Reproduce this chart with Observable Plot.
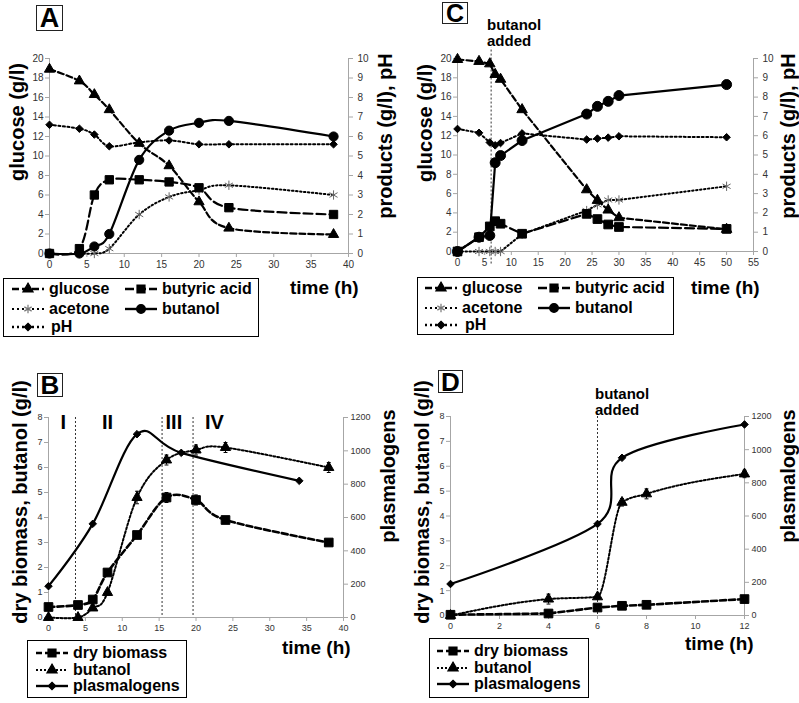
<!DOCTYPE html>
<html><head><meta charset="utf-8">
<script src="https://cdn.jsdelivr.net/npm/d3@7"></script>
<script src="https://cdn.jsdelivr.net/npm/@observablehq/plot@0.6"></script>
<style>
body{margin:0;background:#fff;}
#root{position:relative;width:799px;height:703px;overflow:hidden;background:#fff;font-family:"Liberation Sans",Arial,sans-serif;color:#000;}
.lbl{position:absolute;font-weight:bold;white-space:nowrap;line-height:1;}
.box{position:absolute;border:1.5px solid #000;box-sizing:border-box;}
.item{position:absolute;display:flex;align-items:center;font-weight:bold;font-size:16px;white-space:nowrap;line-height:1;}
.letter{position:absolute;border:1.5px solid #222;box-sizing:border-box;font-weight:bold;display:flex;align-items:center;justify-content:center;line-height:1;}
</style></head><body><div id="root"></div>
<script>
// ---------- Panel A data ----------
const tA = [0, 4, 6, 8, 12, 16, 20, 24, 38];
const glucoseA = [18.9, 17.7, 16.3, 14.75, 11.3, 9.0, 5.3, 2.6, 1.95];
const butyricA = [0, 0.25, 3.0, 3.78, 3.78, 3.67, 3.37, 2.35, 2.0];
const butanolA = [0, 0, 0.36, 1.0, 4.8, 6.3, 6.7, 6.8, 6.0];
const tAcA = [4, 6, 8, 12, 16, 20, 24, 38];
const acetoneA = [0, 0, 0.25, 2.0, 2.9, 3.25, 3.5, 3.0];
const pHA = [6.6, 6.4, 6.1, 5.5, 5.7, 5.8, 5.6, 5.6, 5.6];

// ---------- Panel C data ----------
const tC = [0, 4, 6, 7, 8, 12, 24, 26, 28, 30, 50];
const glucoseC = [19.9, 19.7, 19.45, 18.35, 17.85, 14.7, 6.4, 5.3, 4.3, 3.5, 2.3];
const butyricC = [0, 0.74, 1.3, 1.57, 1.44, 0.92, 1.95, 1.68, 1.4, 1.27, 1.17];
const butanolC = [0, 0.74, 0.83, 4.6, 4.97, 5.75, 7.12, 7.52, 7.78, 8.08, 8.65];
const acetoneC = [0, 0, 0, 0, 0, 0.9, 2.12, 2.42, 2.67, 2.67, 3.38];
const pHC = [6.35, 6.15, 5.65, 5.5, 5.62, 6.12, 5.8, 5.85, 5.9, 5.97, 5.92];
const addedC = [6.25];

// ---------- Panel B data ----------
const tB = [0, 4, 6, 8, 12, 16, 20, 24, 38];
const biomassB = [0.42, 0.5, 0.72, 1.8, 3.3, 4.8, 4.7, 3.9, 3.0];
const biomassErrB = [0, 0, 0, 0, 0, 0.2, 0.2, 0.1, 0];
const butanolB = [0, 0, 0.38, 1.0, 4.8, 6.3, 6.7, 6.8, 6.0];
const butanolErrB = [0, 0, 0, 0, 0.25, 0.2, 0.2, 0.2, 0.2];
const tPlB = [0, 6, 12, 18, 34];
const plasmB = [188, 562, 1100, 988, 820];
const phaseB = [3.66, 15.4, 19.6];
const romanB = ["I", "II", "III", "IV"];
const romanXB = [2, 8, 17, 22.5];

// ---------- Panel D data ----------
const tD = [0, 4, 6, 7, 8, 12];
const biomassD = [0.03, 0.08, 0.32, 0.39, 0.43, 0.66];
const butanolD = [0, 0.66, 0.75, 4.55, 4.89, 5.69];
const butanolErrD = [0, 0.2, 0.1, 0.15, 0.2, 0.15];
const tPlD = [0, 6, 7, 12];
const plasmD = [190, 552, 951, 1152];
const addedD = [6];

// ---------- ticks ----------
const xTicksA = d3.range(0, 41, 5);
const xTicksC = d3.range(0, 56, 5);
const xTicksB = d3.range(0, 41, 5);
const xTicksD = d3.range(0, 13, 2);
const gTicks = d3.range(0, 21, 2);
const pTicks = d3.range(0, 11, 1);
const bTicks = d3.range(0, 9, 1);
const plTicks = d3.range(0, 1201, 200);

const root = document.getElementById("root");
const rows = (t, v, e) => t.map((x, i) => ({t: x, v: v[i], e: e ? e[i] : 0}));
const FONT = '"Liberation Sans", Arial, sans-serif';
const AX = "#a6a6a6";
const capSym = {draw(ctx, size) { const w = Math.sqrt(size) / 2; ctx.moveTo(-w, 0); ctx.lineTo(w, 0); }};

function series(data, k, {dash = null, width = 2, curve = "linear", symbol, r = 4.5, fill = "black", stroke = "black", dotStroke, lineStroke = "black"}) {
  const y = d => d.v * k;
  const marks = [Plot.line(data, {x: "t", y, stroke: lineStroke, strokeWidth: width, strokeDasharray: dash, curve, tension: 0})];
  marks.push(Plot.dot(data, {x: "t", y, symbol, r, fill, stroke: dotStroke ?? stroke, strokeWidth: 1}));
  return marks;
}
function errors(data, k) {
  const d2 = data.filter(d => d.e > 0);
  return [
    Plot.ruleX(d2, {x: "t", y1: d => (d.v - d.e) * k, y2: d => (d.v + d.e) * k, stroke: "black", strokeWidth: 1}),
    Plot.dot(d2, {x: "t", y: d => (d.v + d.e) * k, symbol: capSym, r: 2.2, fill: "none", stroke: "black", strokeWidth: 1}),
    Plot.dot(d2, {x: "t", y: d => (d.v - d.e) * k, symbol: capSym, r: 2.2, fill: "none", stroke: "black", strokeWidth: 1})
  ];
}

function panel({left, top, width, height, ml, mr, mt, mb, xmax, xticks, ymax, yticks, rticks, rk, fs, rpad, marks}) {
  const p = Plot.plot({
    width, height, marginLeft: ml, marginRight: mr, marginTop: mt, marginBottom: mb,
    x: {domain: [0, xmax]}, y: {domain: [0, ymax]},
    style: {fontFamily: FONT, fontSize: fs + "px", background: "transparent", color: "#333", overflow: "visible"},
    marks: [
      Plot.ruleY([0], {stroke: AX}),
      Plot.ruleX([0, xmax], {stroke: AX}),
      Plot.axisX(xticks, {tickSize: 4, tickPadding: 3, stroke: AX, fill: "#333", label: null}),
      Plot.axisY(yticks, {tickSize: 4, tickPadding: 2, stroke: AX, fill: "#333", label: null}),
      Plot.axisY(rticks, {anchor: "right", y: d => d * rk, text: d => String(d), tickSize: 4, tickPadding: rpad, stroke: AX, fill: "#333", label: null}),
      ...marks
    ]
  });
  p.style.position = "absolute"; p.style.left = left + "px"; p.style.top = top + "px";
  root.appendChild(p);
}

function label(text, x, y, size, rot) {
  const d = document.createElement("div");
  d.className = "lbl"; d.textContent = text;
  d.style.left = x + "px"; d.style.top = y + "px"; d.style.fontSize = size + "px";
  d.style.transform = "translate(-50%,-50%)" + (rot ? " rotate(-90deg)" : "");
  root.appendChild(d);
}
function textAt(text, x, y, size) {
  const d = document.createElement("div");
  d.className = "lbl"; d.textContent = text;
  d.style.left = x + "px"; d.style.top = y + "px"; d.style.fontSize = size + "px";
  d.style.transform = "translateY(-50%)";
  root.appendChild(d);
}
function letter(ch, x, y, w, h, size) {
  const d = document.createElement("div");
  d.className = "letter"; d.textContent = ch;
  Object.assign(d.style, {left: x + "px", top: y + "px", width: w + "px", height: h + "px", fontSize: size + "px"});
  root.appendChild(d);
}
const symMap = {triangle: d3.symbolTriangle, square: d3.symbolSquare, circle: d3.symbolCircle, diamond: d3.symbolDiamond2, asterisk: d3.symbolAsterisk};
function sampleSvg(dash, sym, size, width, strokeCol, isStroke) {
  const path = d3.symbol().type(symMap[sym]).size(size)();
  return `<svg width="32" height="14" style="margin-right:3px;overflow:visible"><line x1="0" x2="32" y1="7" y2="7" stroke="${strokeCol}" stroke-width="${width}" ${dash ? `stroke-dasharray="${dash}"` : ""}/>` +
    `<path d="${path}" transform="translate(16,7)" fill="${isStroke ? "none" : "black"}" stroke="${isStroke ? "#777" : "black"}" stroke-width="1.2"/></svg>`;
}
function legend(x, y, w, h, items) {
  const b = document.createElement("div");
  b.className = "box";
  Object.assign(b.style, {left: x + "px", top: y + "px", width: w + "px", height: h + "px"});
  for (const it of items) {
    const d = document.createElement("div");
    d.className = "item";
    d.style.left = it.x + "px"; d.style.top = (it.y - 7) + "px"; d.style.height = "14px";
    d.innerHTML = sampleSvg(it.dash, it.sym, it.size, it.w || 2.4, "black", it.stroke) + `<span style="margin-left:${it.gap || 2}px">${it.label}</span>`;
    b.appendChild(d);
  }
  root.appendChild(b);
}

// ---------- Panel A ----------
panel({left: 0, top: 40, width: 400, height: 235, ml: 49, mr: 52, mt: 18, mb: 22, xmax: 40, xticks: xTicksA,
  ymax: 20, yticks: gTicks, rticks: pTicks, rk: 2, fs: 10, rpad: 5,
  marks: [
    ...series(rows(tA, pHA), 2, {dash: "2,2.5", width: 2, curve: "cardinal", symbol: "diamond2", r: 3.4}),
    ...series(rows(tAcA, acetoneA), 2, {dash: "1.5,2.5", width: 2, curve: "cardinal", symbol: "asterisk", r: 4.4, fill: "none", dotStroke: "#666"}),
    ...series(rows(tA, butyricA), 2, {dash: "9,4", width: 2.2, curve: "cardinal", symbol: "square", r: 4.7}),
    ...series(rows(tA, glucoseA), 1, {dash: "6,3", width: 2.2, curve: "cardinal", symbol: "triangle", r: 3.8}),
    ...series(rows(tA, butanolA), 2, {dash: null, width: 2.2, curve: "cardinal", symbol: "circle", r: 4.6})
  ]});
letter("A", 36, 5, 27, 26, 27);
label("glucose (g/l)", 17, 122, 20, true);
label("products (g/l), pH", 385, 136, 20, true);
textAt("time (h)", 290, 287, 19);
legend(3, 278, 256, 59, [
  {x: 8, y: 10, dash: "7,3", sym: "triangle", size: 45, label: "glucose"},
  {x: 121, y: 10, dash: "9,3", sym: "square", size: 64, label: "butyric acid"},
  {x: 8, y: 30, dash: "2,3", sym: "asterisk", size: 50, label: "acetone", stroke: true, w: 1.8},
  {x: 121, y: 30, dash: null, sym: "circle", size: 60, label: "butanol"},
  {x: 8, y: 48, dash: "2,3", sym: "diamond", size: 36, label: "pH", gap: 4}
]);

// ---------- Panel C ----------
panel({left: 400, top: 40, width: 399, height: 235, ml: 57, mr: 46, mt: 18, mb: 24, xmax: 55, xticks: xTicksC,
  ymax: 20, yticks: gTicks, rticks: pTicks, rk: 2, fs: 10, rpad: 5,
  marks: [
    Plot.ruleX(addedC, {x: d => d, y1: -1.3, y2: 21.1, stroke: "#333", strokeWidth: 1, strokeDasharray: "2,2"}),
    ...series(rows(tC, pHC), 2, {dash: "2,2.5", width: 2, symbol: "diamond2", r: 3.4}),
    ...series(rows(tC, acetoneC), 2, {dash: "1.5,2.5", width: 2, symbol: "asterisk", r: 4.4, fill: "none", dotStroke: "#666"}),
    ...series(rows(tC, butyricC), 2, {dash: "9,4", width: 2.2, symbol: "square", r: 4.9}),
    ...series(rows(tC, glucoseC), 1, {dash: "6,3", width: 2.2, symbol: "triangle", r: 3.9}),
    ...series(rows(tC, butanolC), 2, {dash: null, width: 2.2, symbol: "circle", r: 5})
  ]});
letter("C", 442, 2, 26, 22, 25);
textAt("butanol", 487, 24, 15);
textAt("added", 487, 40, 15);
label("glucose (g/l)", 425, 123, 20, true);
label("products (g/l), pH", 788, 136, 20, true);
textAt("time (h)", 691, 287, 19);
legend(417, 277, 257, 58, [
  {x: 7, y: 10, dash: "7,3", sym: "triangle", size: 45, label: "glucose"},
  {x: 120, y: 10, dash: "9,3", sym: "square", size: 64, label: "butyric acid"},
  {x: 7, y: 30, dash: "2,3", sym: "asterisk", size: 50, label: "acetone", stroke: true, w: 1.8},
  {x: 120, y: 30, dash: null, sym: "circle", size: 60, label: "butanol"},
  {x: 7, y: 47, dash: "2,3", sym: "diamond", size: 36, label: "pH", gap: 5}
]);

// ---------- Panel B ----------
panel({left: 0, top: 400, width: 400, height: 240, ml: 48, mr: 57, mt: 17, mb: 23, xmax: 40, xticks: xTicksB,
  ymax: 8, yticks: bTicks, rticks: plTicks, rk: 1 / 150, fs: 9, rpad: 3,
  marks: [
    Plot.ruleX(phaseB, {x: d => d, stroke: "#333", strokeWidth: 1, strokeDasharray: "2,2"}),
    Plot.text(romanB, {x: (d, i) => romanXB[i], y: 7.8, text: d => d, fontSize: 20, fontWeight: "bold", fill: "black"}),
    ...errors(rows(tB, biomassB, biomassErrB), 1),
    ...errors(rows(tB, butanolB, butanolErrB), 1),
    ...series(rows(tB, biomassB), 1, {dash: "6,3", width: 2.6, curve: "cardinal", symbol: "square", r: 4.9}),
    ...series(rows(tB, butanolB), 1, {dash: "2,2", width: 2, curve: "cardinal", symbol: "triangle", r: 3.8}),
    ...series(rows(tPlB, plasmB), 1 / 150, {dash: null, width: 2.2, curve: "cardinal", symbol: "diamond2", r: 3.4})
  ]});
letter("B", 37, 373, 26, 24, 26);
label("dry biomass, butanol (g/l)", 20, 502, 20, true);
label("plasmalogens", 388, 476, 20, true);
textAt("time (h)", 282, 647, 19);
legend(27, 640, 160, 58, [
  {x: 8, y: 12, dash: "6,3", sym: "square", size: 64, label: "dry biomass"},
  {x: 8, y: 29, dash: "2,2", sym: "triangle", size: 45, label: "butanol", w: 2},
  {x: 8, y: 45, dash: null, sym: "diamond", size: 36, label: "plasmalogens"}
]);

// ---------- Panel D ----------
panel({left: 400, top: 400, width: 399, height: 240, ml: 50, mr: 55, mt: 16, mb: 25, xmax: 12, xticks: xTicksD,
  ymax: 8, yticks: bTicks, rticks: plTicks, rk: 1 / 150, fs: 9, rpad: 3,
  marks: [
    Plot.ruleX(addedD, {x: d => d, stroke: "#333", strokeWidth: 1, strokeDasharray: "2,2"}),
    ...errors(rows(tD, butanolD, butanolErrD), 1),
    ...series(rows(tD, biomassD), 1, {dash: "6,3", width: 2.6, symbol: "square", r: 4.9}),
    ...series(rows(tD, butanolD), 1, {dash: "2,2", width: 2, curve: "monotone-x", symbol: "triangle", r: 3.8}),
    ...series(rows(tPlD, plasmD), 1 / 150, {dash: null, width: 2.2, curve: "cardinal", symbol: "diamond2", r: 3.4})
  ]});
letter("D", 438, 370, 25, 23, 26);
textAt("butanol", 595, 393, 15);
textAt("added", 595, 409, 15);
label("dry biomass, butanol (g/l)", 422, 502, 20, true);
label("plasmalogens", 788, 476, 20, true);
textAt("time (h)", 685, 643, 19);
legend(429, 638, 160, 60, [
  {x: 7, y: 12, dash: "6,3", sym: "square", size: 64, label: "dry biomass"},
  {x: 7, y: 29, dash: "2,2", sym: "triangle", size: 45, label: "butanol", w: 2},
  {x: 7, y: 45, dash: null, sym: "diamond", size: 36, label: "plasmalogens"}
]);
</script></body></html>
